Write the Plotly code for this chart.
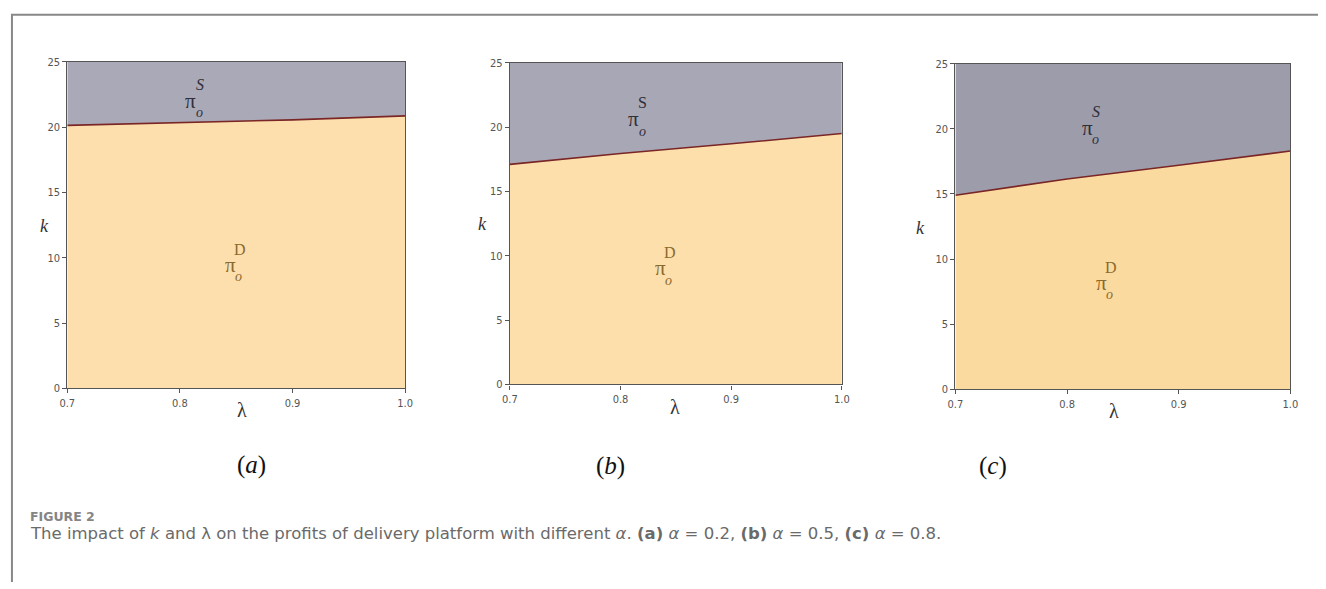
import plotly.graph_objects as go

W, H = 1326, 589

# ---- data ----
lam = [0.7, 0.8, 0.9, 1.0]
k_a = [20.13, 20.36, 20.55, 20.86]
k_b = [17.1, 17.95, 18.7, 19.5]
k_c = [14.9, 16.15, 17.2, 18.3]
k_top = 25
x_ticks = [0.7, 0.8, 0.9, 1.0]
x_ticklabels = ["0.7", "0.8", "0.9", "1.0"]
y_ticks = [0, 5, 10, 15, 20, 25]
panel_names = ["(a)", "(b)", "(c)"]

# label positions (lambda, k) for the pi labels
lab_S = [(0.8096, 22.0), (0.8119, 20.59), (0.818, 20.05)]
lab_D = [(0.8447, 9.43), (0.8357, 9.02), (0.8307, 8.16)]

# ---- layout geometry (pixels) ----
boxes = [(60, 402, 57, 391), (508, 844, 58, 387), (959, 1298, 59, 392)]
grays = ["#aaa9b7", "#a8a7b5", "#9d9cab"]
oranges = ["#fcdfac", "#fcdfab", "#fbdaa0"]
S_italic = [True, False, True]
klab_px = [(30, 225), (480, 223), (930, 227)]
lamlab_px = [(230, 426), (675, 423), (1127, 427)]
cap_px = [(230, 486), (610, 487), (1013, 487)]

series = [k_a, k_b, k_c]

fig = go.Figure()
annotations = []
layout_axes = {}
for i, (x0, x1, y0, y1) in enumerate(boxes):
    xa = "x" if i == 0 else f"x{i+1}"
    ya = "y" if i == 0 else f"y{i+1}"
    ks = series[i]
    fig.add_trace(go.Scatter(x=lam, y=ks, mode="lines", line=dict(width=0, color=oranges[i]),
                             fill="tozeroy", fillcolor=oranges[i], xaxis=xa, yaxis=ya,
                             showlegend=False, hoverinfo="skip"))
    fig.add_trace(go.Scatter(x=lam, y=[k_top] * len(lam), mode="lines", line=dict(width=0, color=grays[i]),
                             fill="tonexty", fillcolor=grays[i], xaxis=xa, yaxis=ya,
                             showlegend=False, hoverinfo="skip"))
    fig.add_trace(go.Scatter(x=lam, y=ks, mode="lines", line=dict(width=1.6, color="#7a2626"),
                             xaxis=xa, yaxis=ya, showlegend=False))
    common = dict(showgrid=False, zeroline=False, showline=True, linecolor="#555", linewidth=1.2,
                  mirror=True, ticks="outside", ticklen=4, tickcolor="#555",
                  tickfont=dict(family="Liberation Sans Narrow, DejaVu Sans Condensed, sans-serif",
                                size=11, color="#555"))
    layout_axes["xaxis" if i == 0 else f"xaxis{i+1}"] = dict(
        domain=[x0 / W, x1 / W], anchor=ya, range=[0.7, 1.0],
        tickvals=x_ticks, ticktext=x_ticklabels, **common)
    layout_axes["yaxis" if i == 0 else f"yaxis{i+1}"] = dict(
        domain=[1 - y1 / H, 1 - y0 / H], anchor=xa, range=[0, 25],
        tickvals=y_ticks, **common)

    (ls, ks_) = lab_S[i]
    sc = "#2f2f3a"
    dx = 0.3 / (x1 - x0)
    dy = 25 / (y1 - y0)
    annotations.append(dict(x=ls, y=ks_, xref=xa, yref=ya, text="π", showarrow=False,
                            font=dict(family="Liberation Serif, serif", size=21, color=sc)))
    annotations.append(dict(x=ls + 9 * dx, y=ks_ + 17 * dy, xref=xa, yref=ya,
                            text="<i>S</i>" if S_italic[i] else "S", showarrow=False,
                            font=dict(family="Liberation Serif, serif", size=16, color=sc)))
    annotations.append(dict(x=ls + 8.5 * dx, y=ks_ - 12 * dy, xref=xa, yref=ya, text="<i>o</i>",
                            showarrow=False, font=dict(family="Liberation Serif, serif", size=14, color=sc)))
    (ld, kd) = lab_D[i]
    dc = "#8a6a2e"
    annotations.append(dict(x=ld, y=kd, xref=xa, yref=ya, text="π", showarrow=False,
                            font=dict(family="Liberation Serif, serif", size=21, color=dc)))
    annotations.append(dict(x=ld + 10 * dx, y=kd + 16 * dy, xref=xa, yref=ya, text="D",
                            showarrow=False, font=dict(family="Liberation Serif, serif", size=16, color=dc)))
    annotations.append(dict(x=ld + 8.5 * dx, y=kd - 12 * dy, xref=xa, yref=ya, text="<i>o</i>",
                            showarrow=False, font=dict(family="Liberation Serif, serif", size=14, color=dc)))
    kx, ky = klab_px[i]
    annotations.append(dict(x=kx / W, y=1 - ky / H, xref="paper", yref="paper", text="<i>k</i>",
                            showarrow=False, font=dict(family="Liberation Serif, serif", size=18, color="#333")))
    lx, ly = lamlab_px[i]
    annotations.append(dict(x=lx / W, y=1 - ly / H, xref="paper", yref="paper", text="λ",
                            showarrow=False, font=dict(family="Liberation Serif, serif", size=20, color="#333")))
    cx, cy = cap_px[i]
    name = panel_names[i]
    annotations.append(dict(x=cx / W, y=1 - cy / H, xref="paper", yref="paper",
                            text="(<i>" + name[1] + "</i>)", showarrow=False,
                            font=dict(family="Liberation Serif, serif", size=25, color="#111")))

annotations.append(dict(x=20 / W, y=1 - 532 / H, xref="paper", yref="paper", xanchor="left",
                        text="<b>FIGURE 2</b>", showarrow=False,
                        font=dict(family="DejaVu Sans, sans-serif", size=12.5, color="#858585")))
cap = ("The impact of <i>k</i> and λ on the profits of delivery platform with different "
       "<i>α</i>. <b>(a)</b> <i>α</i> = 0.2, <b>(b)</b> <i>α</i> = 0.5, <b>(c)</b> <i>α</i> = 0.8.")
annotations.append(dict(x=20 / W, y=1 - 551 / H, xref="paper", yref="paper", xanchor="left",
                        text=cap, showarrow=False,
                        font=dict(family="DejaVu Sans, sans-serif", size=16.5, color="#6a6a6a")))

shapes = [
    dict(type="line", xref="paper", yref="paper", x0=3 / W, x1=1, y0=1 - 9 / H, y1=1 - 9 / H,
         line=dict(color="#888", width=2)),
    dict(type="line", xref="paper", yref="paper", x0=4 / W, x1=4 / W, y0=0, y1=1 - 9 / H,
         line=dict(color="#888", width=2)),
]

fig.update_layout(width=W, height=H, margin=dict(l=0, r=0, t=0, b=0),
                  paper_bgcolor="white", plot_bgcolor="white",
                  annotations=annotations, shapes=shapes, **layout_axes)
fig.write_html("out.html", config={"displayModeBar": False})

# remove default page margins so the figure fills the window exactly
with open("out.html", "r", encoding="utf-8") as f:
    html = f.read()
html = html.replace("<head>", "<head><style>html,body{margin:0;padding:0;overflow:hidden;}</style>", 1)
with open("out.html", "w", encoding="utf-8") as f:
    f.write(html)
